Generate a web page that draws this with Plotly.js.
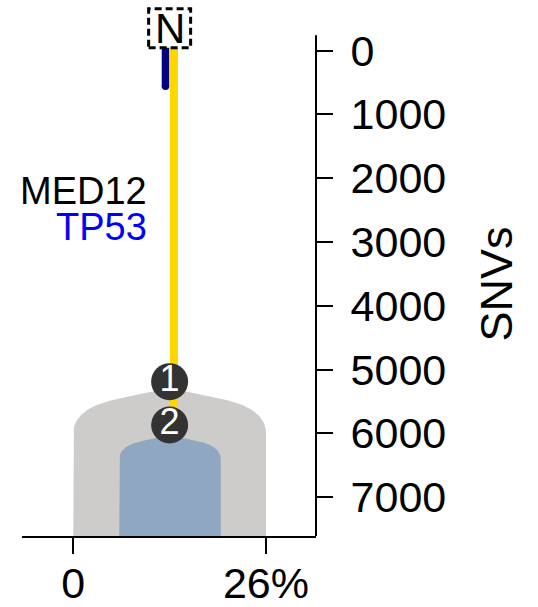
<!DOCTYPE html>
<html><head><meta charset="utf-8">
<script src="https://cdn.plot.ly/plotly-3.0.1.min.js"></script>
<style>html,body{margin:0;padding:0;background:#fff}#chart{width:538px;height:607px}</style>
</head><body><div id="chart"></div>
<script>
// ---------------- data ----------------
// tree nodes (N = normal, drawn above the 0 line)
const nodeNames = ['N', '1', '2'];
const nodeSNVs = [-350, 5190, 5870];
const nodeX = [13, 13, 13];

// clone shapes (cancer cell fraction, %)
const cloneNames = ['1', '2'];
const cloneCCF = [26, 13.7];
const cloneCenter = [13, 13.05];
const cloneTopSNVs = [5290, 6030];
const cloneColors = ['#cdcccb', '#90a7c2'];

// branches
const branchColors = ['#000080', '#ffd700'];
const branchX = [12.44, 13.59];
const branchStartSNVs = [-350, -350];
const branchEndSNVs = [560, 5870];
const branchWidths = [7.5, 8];

// driver genes on the trunk
const geneNames = ['MED12', 'TP53'];
const geneColors = ['#000000', '#0000ff'];
const geneSNVs = [2200, 2760];

// axes
const xTickVals = [0, 26];
const xTickText = ['0', '26%'];
const yTickVals = [0, 1000, 2000, 3000, 4000, 5000, 6000, 7000];
const yTickText = ['0', '1000', '2000', '3000', '4000', '5000', '6000', '7000'];
const yAxisDrawn = [-240, 7610];

// ---------------- layout geometry ----------------
const W = 538, H = 607;
const margin = {l: 22, r: 222, t: 6, b: 71, pad: 0};
const xRange = [-6.92, 32.75];
const yRange = [7610, -700];
const plotW = W - margin.l - margin.r;
const plotH = H - margin.t - margin.b;
const pxPerPct = plotW / (xRange[1] - xRange[0]);
const pxPerSNV = plotH / (yRange[0] - yRange[1]);
const k = pxPerPct / pxPerSNV;
const FONT = 'Arial, "Liberation Sans", sans-serif';

function profile(t) {
  return 0.2 * t + 0.26 * (1 - Math.sqrt(Math.max(0, 1 - Math.pow(t, 6))));
}

const traces = [];
cloneNames.forEach((name, i) => {
  const hw = cloneCCF[i] / 2, c = cloneCenter[i], top = cloneTopSNVs[i];
  const ts = [];
  const N = 80;
  for (let j = 0; j <= N; j++) { const u = j / N; ts.push(1 - Math.pow(1 - u, 3)); }
  const xs = [], ys = [];
  xs.push(c - hw); ys.push(yRange[0]);
  for (let j = ts.length - 1; j >= 0; j--) { xs.push(c - ts[j] * hw); ys.push(top + k * hw * profile(ts[j])); }
  for (let j = 1; j < ts.length; j++) { xs.push(c + ts[j] * hw); ys.push(top + k * hw * profile(ts[j])); }
  xs.push(c + hw); ys.push(yRange[0]);
  traces.push({
    type: 'scatter', mode: 'lines', x: xs, y: ys, fill: 'toself',
    fillcolor: cloneColors[i], line: {width: 0, color: cloneColors[i]},
    hoverinfo: 'skip', showlegend: false
  });
});

branchColors.forEach((col, i) => {
  traces.push({
    type: 'scatter', mode: 'lines',
    x: [branchX[i], branchX[i]], y: [branchStartSNVs[i], branchEndSNVs[i]],
    line: {color: col, width: branchWidths[i]}, hoverinfo: 'skip', showlegend: false
  });
  traces.push({
    type: 'scatter', mode: 'markers',
    x: [branchX[i]], y: [branchEndSNVs[i]],
    marker: {color: col, size: branchWidths[i], line: {width: 0}},
    hoverinfo: 'skip', showlegend: false
  });
});

traces.push({
  type: 'scatter', mode: 'markers+text',
  x: nodeX.slice(1), y: nodeSNVs.slice(1), text: nodeNames.slice(1),
  textposition: 'middle center',
  textfont: {family: FONT, size: 36, color: '#ffffff'},
  marker: {color: '#333333', size: 37, line: {width: 0}},
  hoverinfo: 'skip', showlegend: false
});

const annotations = [];
geneNames.forEach((g, i) => {
  annotations.push({
    x: branchX[1], y: geneSNVs[i], xref: 'x', yref: 'y',
    xanchor: 'right', yanchor: 'middle', xshift: -25,
    text: g, showarrow: false,
    font: {family: FONT, size: 38, color: geneColors[i]}
  });
});
annotations.push({
  x: nodeX[0], y: nodeSNVs[0], xref: 'x', yref: 'y',
  xanchor: 'center', yanchor: 'middle', text: nodeNames[0], showarrow: false,
  font: {family: FONT, size: 42, color: '#000000'}
});
annotations.push({
  x: 1.615, xref: 'paper', y: (yAxisDrawn[0] + yAxisDrawn[1]) / 2 - 30, yref: 'y',
  text: 'SNVs', textangle: -90, showarrow: false,
  xanchor: 'center', yanchor: 'middle',
  font: {family: FONT, size: 45, color: '#000000'}
});

const shapes = [
  {
    type: 'rect', xref: 'x', yref: 'y', xsizemode: 'pixel', ysizemode: 'pixel',
    xanchor: nodeX[0], yanchor: nodeSNVs[0],
    x0: -21, x1: 21, y0: -19.5, y1: 19.5,
    line: {color: '#000000', width: 3, dash: '7px,4px'},
    fillcolor: '#ffffff', layer: 'above'
  },
  {
    type: 'line', xref: 'paper', yref: 'y', x0: 1, x1: 1,
    y0: yAxisDrawn[0], y1: yAxisDrawn[1],
    line: {color: '#000000', width: 2}, layer: 'above'
  }
];

const layout = {
  width: W, height: H, margin: margin,
  paper_bgcolor: '#ffffff', plot_bgcolor: '#ffffff',
  showlegend: false,
  font: {family: FONT, color: '#000000'},
  xaxis: {
    range: xRange, showgrid: false, zeroline: false,
    showline: true, linecolor: '#000000', linewidth: 2,
    ticks: 'outside', ticklen: 16, tickwidth: 2, tickcolor: '#000000',
    tickvals: xTickVals, ticktext: xTickText,
    tickfont: {family: FONT, size: 43, color: '#000000'},
    ticklabelstandoff: -8, fixedrange: true
  },
  yaxis: {
    range: yRange, side: 'right', showgrid: false, zeroline: false,
    showline: false,
    ticks: 'outside', ticklen: 16, tickwidth: 2, tickcolor: '#000000',
    tickvals: yTickVals, ticktext: yTickText,
    tickfont: {family: FONT, size: 43, color: '#000000'},
    ticklabelstandoff: 9, fixedrange: true
  },
  shapes: shapes,
  annotations: annotations
};

Plotly.newPlot('chart', traces, layout, {displayModeBar: false, staticPlot: true});
</script>
</body></html>
